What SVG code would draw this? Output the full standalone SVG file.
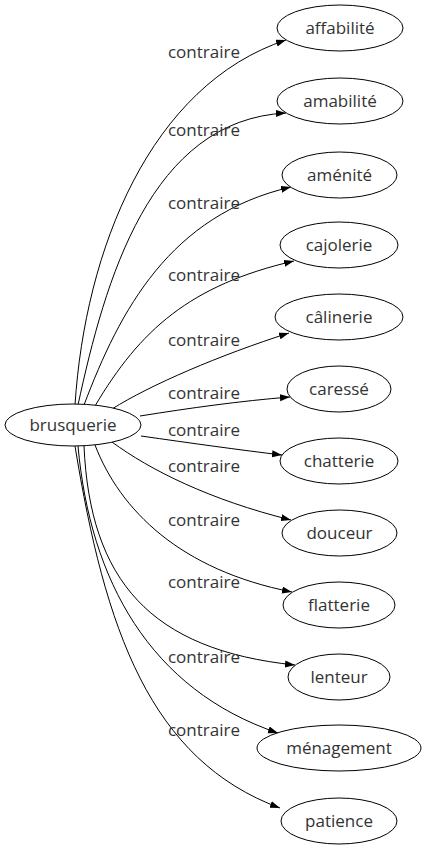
<svg xmlns="http://www.w3.org/2000/svg" width="426" height="851" viewBox="0 0 426 851">
<style>
.n ellipse{fill:#fff;stroke:#000;stroke-width:1}
text{font-family:"Open Sans","DejaVu Sans",sans-serif;font-size:17px;fill:#333;text-anchor:middle}
.e path{fill:none;stroke:#000;stroke-width:1;marker-end:url(#ah)}
</style>
<defs>
<marker id="ah" markerWidth="10" markerHeight="8" refX="10" refY="3.5" orient="auto" markerUnits="userSpaceOnUse">
<path d="M0,0 L10,3.5 L0,7 Z" fill="#000"/>
</marker>
</defs>
<rect width="426" height="851" fill="#fff"/>
<g id="edges" class="e">
<path d="M75,405 C85,250 150,85 286,40"/>
<path d="M78,405 C105,280 150,120 286,113"/>
<path d="M84,405 C120,310 170,215 291,187"/>
<path d="M95,406 C140,330 190,285 294,261"/>
<path d="M112,409 C150,385 220,355 289,333"/>
<path d="M140,416 C190,408 240,401 290,397"/>
<path d="M141,436 C190,443 240,450 282,455"/>
<path d="M112,442 C150,470 210,500 291,520"/>
<path d="M95,445 C120,510 180,570 292,592"/>
<path d="M84,446 C90,580 150,650 295,665"/>
<path d="M78,446 C90,580 150,690 278,733"/>
<path d="M75,446 C105,630 150,760 280,808"/>
</g>
<g id="labels">
<text x="204" y="58">contraire</text>
<text x="204" y="136">contraire</text>
<text x="204" y="209">contraire</text>
<text x="204" y="281">contraire</text>
<text x="204" y="346">contraire</text>
<text x="204" y="399">contraire</text>
<text x="204" y="436">contraire</text>
<text x="204" y="472">contraire</text>
<text x="204" y="526">contraire</text>
<text x="204" y="588">contraire</text>
<text x="204" y="663">contraire</text>
<text x="204" y="736">contraire</text>
</g>
<g id="brusquerie" class="n"><ellipse cx="73" cy="425" rx="68" ry="21"/><text x="73" y="431">brusquerie</text></g>
<g id="affabilite" class="n"><ellipse cx="340" cy="28" rx="63" ry="23"/><text x="340" y="34">affabilité</text></g>
<g id="amabilite" class="n"><ellipse cx="340" cy="101" rx="63" ry="23"/><text x="340" y="107">amabilité</text></g>
<g id="amenite" class="n"><ellipse cx="339.5" cy="175" rx="57.5" ry="23"/><text x="339.5" y="181">aménité</text></g>
<g id="cajolerie" class="n"><ellipse cx="339" cy="245" rx="59" ry="23"/><text x="339" y="251">cajolerie</text></g>
<g id="calinerie" class="n"><ellipse cx="339" cy="317" rx="64" ry="23"/><text x="339" y="323">câlinerie</text></g>
<g id="caresse" class="n"><ellipse cx="339" cy="389" rx="52" ry="23"/><text x="339" y="395">caressé</text></g>
<g id="chatterie" class="n"><ellipse cx="339" cy="461" rx="59" ry="23"/><text x="339" y="467">chatterie</text></g>
<g id="douceur" class="n"><ellipse cx="339.5" cy="533" rx="57.5" ry="23"/><text x="339.5" y="539">douceur</text></g>
<g id="flatterie" class="n"><ellipse cx="339" cy="605" rx="56" ry="23"/><text x="339" y="611">flatterie</text></g>
<g id="lenteur" class="n"><ellipse cx="339" cy="677" rx="51" ry="23"/><text x="339" y="683">lenteur</text></g>
<g id="menagement" class="n"><ellipse cx="339" cy="748" rx="82" ry="23"/><text x="339" y="754">ménagement</text></g>
<g id="patience" class="n"><ellipse cx="339" cy="821" rx="58" ry="23"/><text x="339" y="827">patience</text></g>
</svg>
